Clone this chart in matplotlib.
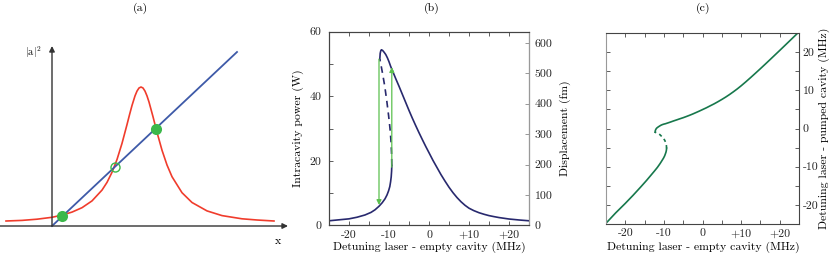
import numpy as np
import matplotlib
matplotlib.use('Agg')
import matplotlib.pyplot as plt
from matplotlib.ticker import MultipleLocator

plt.rcParams['font.family'] = 'cmr10'
plt.rcParams['mathtext.fontset'] = 'cm'
plt.rcParams['axes.unicode_minus'] = False

# ---------------- data ----------------
# (a) sketch, coordinates in arbitrary units (origin at axes crossing)
a_red_x = [-46, -30, -15, 0, 10, 20, 30, 40, 50, 55, 60, 65, 70, 75, 77.5, 80, 83, 85, 87, 89, 91, 93, 95, 97,
           101, 105, 110, 115, 120, 130, 140, 155, 170, 190, 205, 222]
a_red_y = [5.0, 5.6, 6.8, 8.7, 10.9, 13.9, 18.3, 25.1, 35.9, 43.6, 53.7, 66.5, 82.6, 101.4, 111.2, 120.5, 130.1,
           134.9, 138.0, 139, 138.0, 134.9, 130.1, 124.0, 109.3, 93.7, 75.8, 61.0, 49.3, 33.3, 23.5, 15.1, 10.4,
           7.2, 6.0, 5.0]
a_line_x = [0, 185]
a_line_y = [0, 174]
a_stable_x = [10.3, 103.7]
a_stable_y = [10.0, 97.5]
a_unstable_x = [63]
a_unstable_y = [59.3]

# (b) intracavity power (W) vs detuning laser - empty cavity (MHz)
b_low_x = [-25, -22.5, -20, -18, -16, -14.5, -13.5, -12.5, -11.7, -11.0, -10.5, -10.1, -9.8, -9.6, -9.45, -9.35, -9.3]
b_low_y = [1.4, 1.7, 2.0, 2.5, 3.2, 4.0, 4.8, 5.9, 7.0, 8.2, 9.4, 10.7, 12.0, 13.5, 15.0, 16.8, 18.5]
b_mid_x = [-9.3, -9.35, -9.5, -9.75, -10.1, -10.55, -11.05, -11.6, -12.05, -12.3]
b_mid_y = [18.5, 22, 26, 30, 34, 38.5, 43, 47, 50, 51.5]
b_up_x = [-12.3, -12.2, -12.05, -11.9, -11.6, -11.2, -10.8, -10.4, -10.0, -9.6, -9.0, -8.3, -7.5, -6.7, -5.9,
          -5.0, -4.2, -3.4, -2.5, -1.6, -0.8, 0, 1, 2, 3, 4, 5, 6, 7, 8, 9, 10, 11.2, 12.5, 13.8, 15, 16.2,
          17.5, 20, 22.5, 25]
b_up_y = [51.5, 53.3, 54.1, 54.4, 54.2, 53.6, 52.9, 51.9, 50.7, 49.3, 47.5, 45.4, 43.1, 40.7, 38.3,
          35.6, 33.3, 31.1, 28.7, 26.4, 24.4, 22.5, 20.1, 17.9, 15.7, 13.7, 11.8, 10.1, 8.6, 7.3, 6.2, 5.3,
          4.55, 3.9, 3.4, 3.0, 2.7, 2.4, 1.95, 1.65, 1.4]
b_jump_down = (-12.5, 51.5, 6.3)
b_jump_up = (-9.3, 18.0, 49.0)
b_fm_max = 637

# (c) detuning laser - pumped cavity (MHz) vs detuning laser - empty cavity (MHz)
c_low_x = [-25, -22.5, -20, -18, -16, -14.5, -13.5, -12.5, -11.7, -11.0, -10.5, -10.1, -9.8, -9.6, -9.45, -9.35, -9.3]
c_low_y = [-24.8, -22.1, -19.6, -17.5, -15.3, -13.6, -12.4, -11.2, -10.2, -9.2, -8.4, -7.75, -7.15, -6.6, -6.15, -5.65, -5.2]
c_mid_x = [-9.3, -9.35, -9.5, -9.75, -10.1, -10.55, -11.05, -11.6, -12.05, -12.3]
c_mid_y = [-5.2, -4.5, -3.8, -3.15, -2.6, -2.1, -1.6, -1.25, -1.05, -0.97]
c_up_x = [-12.3, -12.2, -12.05, -11.9, -11.6, -11.2, -10.8, -10.4, -10.0, -9.6, -9.0, -8.3, -7.5, -6.7, -5.9,
          -5.0, -4.2, -3.4, -2.5, -1.6, -0.8, 0, 1, 2, 3, 4, 5, 6, 7, 8, 9, 10, 11.2, 12.5, 13.8, 15, 16.2,
          17.5, 20, 22.5, 25]
c_up_y = [-0.97, -0.47, -0.15, 0.07, 0.32, 0.59, 0.84, 1.02, 1.15, 1.25, 1.45, 1.69, 1.98, 2.25, 2.53,
          2.83, 3.13, 3.44, 3.81, 4.21, 4.57, 4.95, 5.42, 5.94, 6.45, 7.01, 7.6, 8.22, 8.89, 9.61, 10.36, 11.17,
          12.2, 13.36, 14.55, 15.66, 16.79, 18.03, 20.43, 22.86, 25.3]

det_ticks = [-20, -10, 0, 10, 20]
det_labels = ['-20', '-10', '0', '+10', '+20']
pow_ticks = [0, 20, 40, 60]
fm_ticks = [0, 100, 200, 300, 400, 500, 600]
c_right_labels = ['-20', '-10', '0', '10', '20']

W, H = 830, 257
def fx(px):
    return px / W
def fy(py):
    return 1 - py / H

fs = 8.5
spine_col = '#444444'
navy = '#28296e'
teal = '#17784c'
arrow_green = '#5cc04e'

fig = plt.figure(figsize=(W / 100, H / 100), dpi=100)

# ---------------- (a) ----------------
ax_a = fig.add_axes([0, 0, 300 / W, 1])
ax_a.set_xlim(-52, 248)
ax_a.set_ylim(-31, 226)
ax_a.axis('off')
ax_a.annotate('', xy=(236, 0), xytext=(-52, 0),
              arrowprops=dict(arrowstyle='-|>', color='#333333', lw=1.0, mutation_scale=8, shrinkA=0, shrinkB=0))
ax_a.annotate('', xy=(0, 180), xytext=(0, 0),
              arrowprops=dict(arrowstyle='-|>', color='#333333', lw=1.0, mutation_scale=8, shrinkA=0, shrinkB=0))
ax_a.plot(a_red_x, a_red_y, color='#f03c2c', lw=1.2)
ax_a.plot(a_line_x, a_line_y, color='#3e5aa8', lw=1.3)
ax_a.plot(a_stable_x, a_stable_y, 'o', color='#3cb84a', ms=8, mew=0, zorder=5)
ax_a.plot(a_unstable_x, a_unstable_y, 'o', mfc='none', mec='#3cb84a', ms=6.5, mew=1.0, zorder=5)
ax_a.text(-19, 174, r'$|\mathrm{a}|^2$', fontsize=7.5, ha='center', va='center')
ax_a.text(226, -15, 'x', fontsize=fs, ha='center', va='center')

# ---------------- (b) ----------------
ax_b = fig.add_axes([fx(329), fy(225.3), 200 / W, 193.6 / H])
ax_b.plot(b_low_x, b_low_y, color=navy, lw=1.2)
ax_b.plot(b_up_x, b_up_y, color=navy, lw=1.2)
ax_b.plot(b_mid_x, b_mid_y, color=navy, lw=1.2, ls=(0, (4, 3)))
ax_b.annotate('', xy=(b_jump_down[0], b_jump_down[2]), xytext=(b_jump_down[0], b_jump_down[1]),
              arrowprops=dict(arrowstyle='-|>', color=arrow_green, lw=0.9, mutation_scale=7, shrinkA=0, shrinkB=0))
ax_b.annotate('', xy=(b_jump_up[0], b_jump_up[2]), xytext=(b_jump_up[0], b_jump_up[1]),
              arrowprops=dict(arrowstyle='-|>', color=arrow_green, lw=0.9, mutation_scale=7, shrinkA=0, shrinkB=0))
ax_b.set_xlim(-25, 25)
ax_b.set_ylim(0, 60)
ax_b.set_xticks(det_ticks)
ax_b.set_xticklabels(det_labels)
ax_b.xaxis.set_minor_locator(MultipleLocator(5))
ax_b.set_yticks(pow_ticks)
ax_b.yaxis.set_minor_locator(MultipleLocator(10))
ax_b.tick_params(which='both', direction='in', top=True, right=False, length=3, width=0.6,
                 labelsize=fs, colors=spine_col, labelcolor='#222222')
ax_b.tick_params(axis='x', pad=3.5)
ax_b.tick_params(axis='y', pad=5.5)
ax_b2 = ax_b.twinx()
ax_b2.set_ylim(0, b_fm_max)
ax_b2.set_yticks(fm_ticks)
ax_b2.tick_params(direction='in', length=3, width=0.6, labelsize=fs, pad=4,
                  colors='#888888', labelcolor='#222222')
for ax in (ax_b, ax_b2):
    for s in ax.spines.values():
        s.set_color(spine_col)
        s.set_linewidth(0.8)
ax_b2.spines['right'].set_color('#999999')

# ---------------- (c) ----------------
ax_c = fig.add_axes([fx(606), fy(224), 193 / W, 191 / H])
ax_c.plot(c_low_x, c_low_y, color=teal, lw=1.2)
ax_c.plot(c_up_x, c_up_y, color=teal, lw=1.2)
ax_c.plot(c_mid_x, c_mid_y, color=teal, lw=1.2, ls=(0, (2, 2)))
ax_c.set_xlim(-25, 25)
ax_c.set_ylim(-25, 25)
ax_c.set_xticks(det_ticks)
ax_c.set_xticklabels(det_labels)
ax_c.xaxis.set_minor_locator(MultipleLocator(5))
ax_c.set_yticks(det_ticks)
ax_c.set_yticklabels(c_right_labels)
ax_c.yaxis.set_minor_locator(MultipleLocator(5))
ax_c.yaxis.tick_right()
ax_c.tick_params(which='both', direction='in', top=True, left=True, right=True, length=3, width=0.6,
                 labelsize=fs, colors=spine_col, labelcolor='#222222')
ax_c.tick_params(axis='x', pad=3.5)
ax_c.tick_params(axis='y', pad=2.5, labelleft=False, labelright=True)
for s in ax_c.spines.values():
    s.set_color(spine_col)
    s.set_linewidth(0.8)
ax_c.spines['left'].set_color('#999999')

# ---------------- labels ----------------
fig.text(fx(140), fy(8), '(a)', fontsize=fs, ha='center', va='center')
fig.text(fx(432), fy(8), '(b)', fontsize=fs, ha='center', va='center')
fig.text(fx(703), fy(8), '(c)', fontsize=fs, ha='center', va='center')
fig.text(fx(429), fy(247), 'Detuning laser - empty cavity (MHz)', fontsize=fs, ha='center', va='center')
fig.text(fx(703), fy(247), 'Detuning laser - empty cavity (MHz)', fontsize=fs, ha='center', va='center')
fig.text(fx(298), fy(128), 'Intracavity power (W)', fontsize=fs, ha='center', va='center', rotation=90)
fig.text(fx(565), fy(128), 'Displacement (fm)', fontsize=fs, ha='center', va='center', rotation=90)
fig.text(fx(824), fy(128), 'Detuning laser - pumped cavity (MHz)', fontsize=fs, ha='center', va='center', rotation=90)

fig.savefig('out.png', dpi=100)
